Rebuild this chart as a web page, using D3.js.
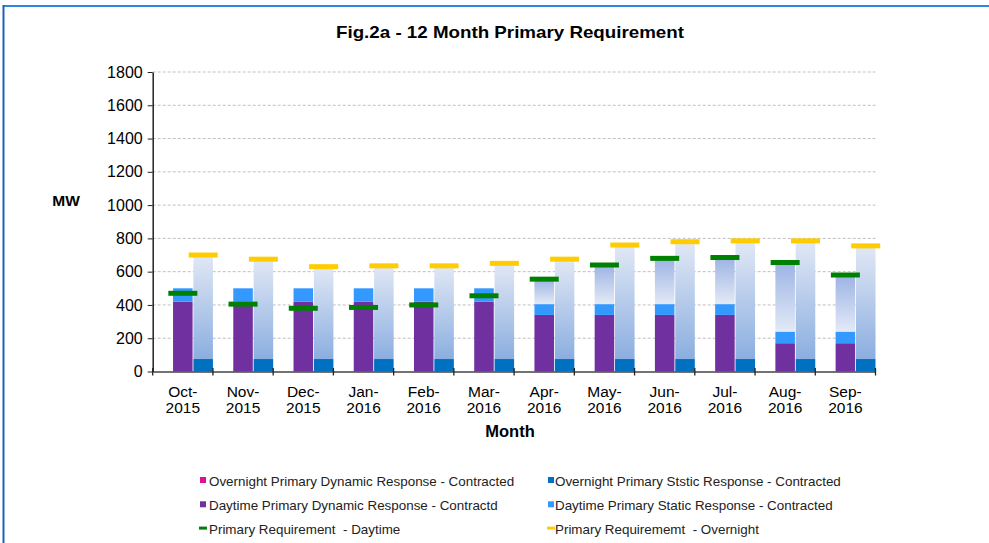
<!DOCTYPE html>
<html><head><meta charset="utf-8">
<script src="https://cdn.jsdelivr.net/npm/d3@7"></script>
<style>
body{margin:0;background:#fff;}
svg{display:block;font-family:"Liberation Sans",Arial,sans-serif;}
.legtext{white-space:pre;}
</style></head>
<body>
<svg id="chart" width="989" height="543"></svg>
<script>
const months = ["Oct-2015","Nov-2015","Dec-2015","Jan-2016","Feb-2016","Mar-2016","Apr-2016","May-2016","Jun-2016","Jul-2016","Aug-2016","Sep-2016"];
const overnightDynamic = [0,0,0,0,0,0,0,0,0,0,0,0];
const overnightStatic = [75,75,75,75,75,75,75,75,75,75,75,75];
const daytimeDynamic = [420,420,420,420,420,420,340,340,340,340,170,170];
const daytimeStatic = [80,80,80,80,80,80,65,65,65,65,70,70];
const reqDaytime = [470,405,380,385,400,455,555,640,680,685,655,580];
const reqOvernight = [700,675,630,635,635,650,675,760,780,785,785,755];
const yTicks = [0,200,400,600,800,1000,1200,1400,1600,1800];
const legendLabels = [
  "Overnight Primary Dynamic Response - Contracted",
  "Overnight Primary Ststic Response - Contracted",
  "Daytime Primary Dynamic Response - Contractd",
  "Daytime Primary Static Response - Contracted",
  "Primary Requirement  - Daytime",
  "Primary Requirememt  - Overnight"
];
const colors = {
  ovDyn:"#E0109A", ovStat:"#0070C0", dayDyn:"#7030A0", dayStat:"#3399FF",
  reqDay:"#008000", reqNight:"#FFCC00"
};

const svg = d3.select("#chart");
const pLeft = 152.7, pRight = 875.5, pTop = 72, pBottom = 371.5;

// frame
svg.append("line").attr("x1",3.5).attr("x2",989).attr("y1",6).attr("y2",6).attr("stroke","#2F86E0").attr("stroke-width",2);
svg.append("line").attr("x1",3.5).attr("x2",3.5).attr("y1",5).attr("y2",543).attr("stroke","#1E62B8").attr("stroke-width",2);

const defs = svg.append("defs");
const gN = defs.append("linearGradient").attr("id","gNight").attr("x1",0).attr("x2",0).attr("y1",0).attr("y2",1);
gN.append("stop").attr("offset","0%").attr("stop-color","#E1E8F5");
gN.append("stop").attr("offset","100%").attr("stop-color","#8BAEE0");
const gD = defs.append("linearGradient").attr("id","gDay").attr("x1",0).attr("x2",0).attr("y1",0).attr("y2",1);
gD.append("stop").attr("offset","0%").attr("stop-color","#9CB3E4");
gD.append("stop").attr("offset","100%").attr("stop-color","#E3EAF6");

const x = d3.scaleBand().domain(months).range([pLeft,pRight]).padding(0);
const sub = d3.scaleBand().domain(["gap","day","night"]).range([0,x.bandwidth()]).paddingInner(0.04).paddingOuter(0);
const y = d3.scaleLinear().domain([0,1800]).range([pBottom,pTop]);

// grid
svg.append("g").selectAll("line").data(yTicks.filter(t=>t>0)).join("line")
  .attr("x1",pLeft).attr("x2",pRight).attr("y1",d=>y(d)).attr("y2",d=>y(d))
  .attr("stroke","#BFBFBF").attr("stroke-width",1).attr("stroke-dasharray","3,2");

// bars
const data = months.map((m,i)=>({m,i}));
const g = svg.append("g");
data.forEach(({m,i})=>{
  const xd = x(m)+sub("day"), xn = x(m)+sub("night"), bw = sub.bandwidth();
  const dd = daytimeDynamic[i], ds = daytimeStatic[i], tot = dd+ds;
  g.append("rect").attr("x",xd).attr("width",bw).attr("y",y(dd)).attr("height",y(0)-y(dd)).attr("fill",colors.dayDyn);
  g.append("rect").attr("x",xd).attr("width",bw).attr("y",y(tot)).attr("height",y(dd)-y(tot)).attr("fill",colors.dayStat);
  if (reqDaytime[i] > tot) {
    g.append("rect").attr("x",xd).attr("width",bw).attr("y",y(reqDaytime[i])).attr("height",y(tot)-y(reqDaytime[i])).attr("fill","url(#gDay)");
  }
  const od = overnightDynamic[i], os = overnightStatic[i], otot = od+os;
  g.append("rect").attr("x",xn).attr("width",bw).attr("y",y(od)).attr("height",y(0)-y(od)).attr("fill",colors.ovDyn);
  g.append("rect").attr("x",xn).attr("width",bw).attr("y",y(otot)).attr("height",y(od)-y(otot)).attr("fill",colors.ovStat);
  if (reqOvernight[i] > otot) {
    g.append("rect").attr("x",xn).attr("width",bw).attr("y",y(reqOvernight[i])).attr("height",y(otot)-y(reqOvernight[i])).attr("fill","url(#gNight)");
  }
});
// markers
const mw = 29, mh = 5;
svg.append("g").selectAll("rect").data(data).join("rect")
  .attr("x",d=>x(d.m)+sub("day")+sub.bandwidth()/2-mw/2).attr("width",mw)
  .attr("y",d=>y(reqDaytime[d.i])-mh/2).attr("height",mh).attr("fill",colors.reqDay);
svg.append("g").selectAll("rect").data(data).join("rect")
  .attr("x",d=>x(d.m)+sub("night")+sub.bandwidth()/2-mw/2).attr("width",mw)
  .attr("y",d=>y(reqOvernight[d.i])-mh/2).attr("height",mh).attr("fill",colors.reqNight);

// y axis
const ya = svg.append("g").attr("transform",`translate(${pLeft},0)`)
  .call(d3.axisLeft(y).tickValues(yTicks).tickFormat(d3.format("d")).tickSize(5).tickSizeOuter(0).tickPadding(5));
ya.select(".domain").attr("stroke","#222").attr("stroke-width",1.5);
ya.selectAll(".tick line").attr("stroke","#222");
ya.selectAll(".tick text").attr("font-size",16).attr("fill","#000").attr("font-family","Liberation Sans, Arial, sans-serif");

// x axis
const xa = svg.append("g").attr("transform",`translate(0,${pBottom})`)
  .call(d3.axisBottom(x).tickSize(0).tickFormat(""));
xa.select(".domain").attr("stroke","#444").attr("stroke-width",1.5);
svg.append("g").selectAll("line").data(months.map(m=>x(m)).concat([pRight])).join("line")
  .attr("x1",d=>d).attr("x2",d=>d).attr("y1",pBottom-3.5).attr("y2",pBottom+4)
  .attr("stroke","#222").attr("stroke-width",1.3);
const lbl = svg.append("g").selectAll("text").data(months).join("text")
  .attr("x",d=>x(d)+x.bandwidth()/2).attr("y",397).attr("text-anchor","middle")
  .attr("font-size",15.5).attr("fill","#000");
lbl.append("tspan").attr("x",d=>x(d)+x.bandwidth()/2).text(d=>d.split("-")[0]+"-");
lbl.append("tspan").attr("x",d=>x(d)+x.bandwidth()/2).attr("dy",15.5).text(d=>d.split("-")[1]);

// titles
svg.append("text").attr("x",510).attr("y",38).attr("text-anchor","middle").attr("font-weight","bold").attr("font-size",16.5).attr("fill","#000")
  .attr("textLength",348).attr("lengthAdjust","spacingAndGlyphs")
  .text("Fig.2a - 12 Month Primary Requirement");
svg.append("text").attr("x",66).attr("y",206).attr("text-anchor","middle").attr("font-weight","bold").attr("font-size",15.5).attr("fill","#000").text("MW");
svg.append("text").attr("x",510).attr("y",437).attr("text-anchor","middle").attr("font-weight","bold").attr("font-size",16.5).attr("fill","#000").text("Month");

// legend
const legColors = [colors.ovDyn,colors.ovStat,colors.dayDyn,colors.dayStat,colors.reqDay,colors.reqNight];
const leg = svg.append("g");
legendLabels.forEach((t,i)=>{
  const col = i%2, row = Math.floor(i/2);
  const lx = col===0 ? 200 : 548, ly = 481 + row*24.3;
  const tx = col===0 ? lx+9 : lx+7;
  if (i<4) leg.append("rect").attr("x",lx).attr("y",ly-4).attr("width",6).attr("height",6).attr("fill",legColors[i]);
  else leg.append("rect").attr("x",lx-1).attr("y",ly-3).attr("width",8).attr("height",3).attr("fill",legColors[i]);
  leg.append("text").attr("class","legtext").attr("x",tx).attr("y",ly+4.5).attr("font-size",13.4).attr("fill","#222").text(t);
});
</script>
</body></html>
